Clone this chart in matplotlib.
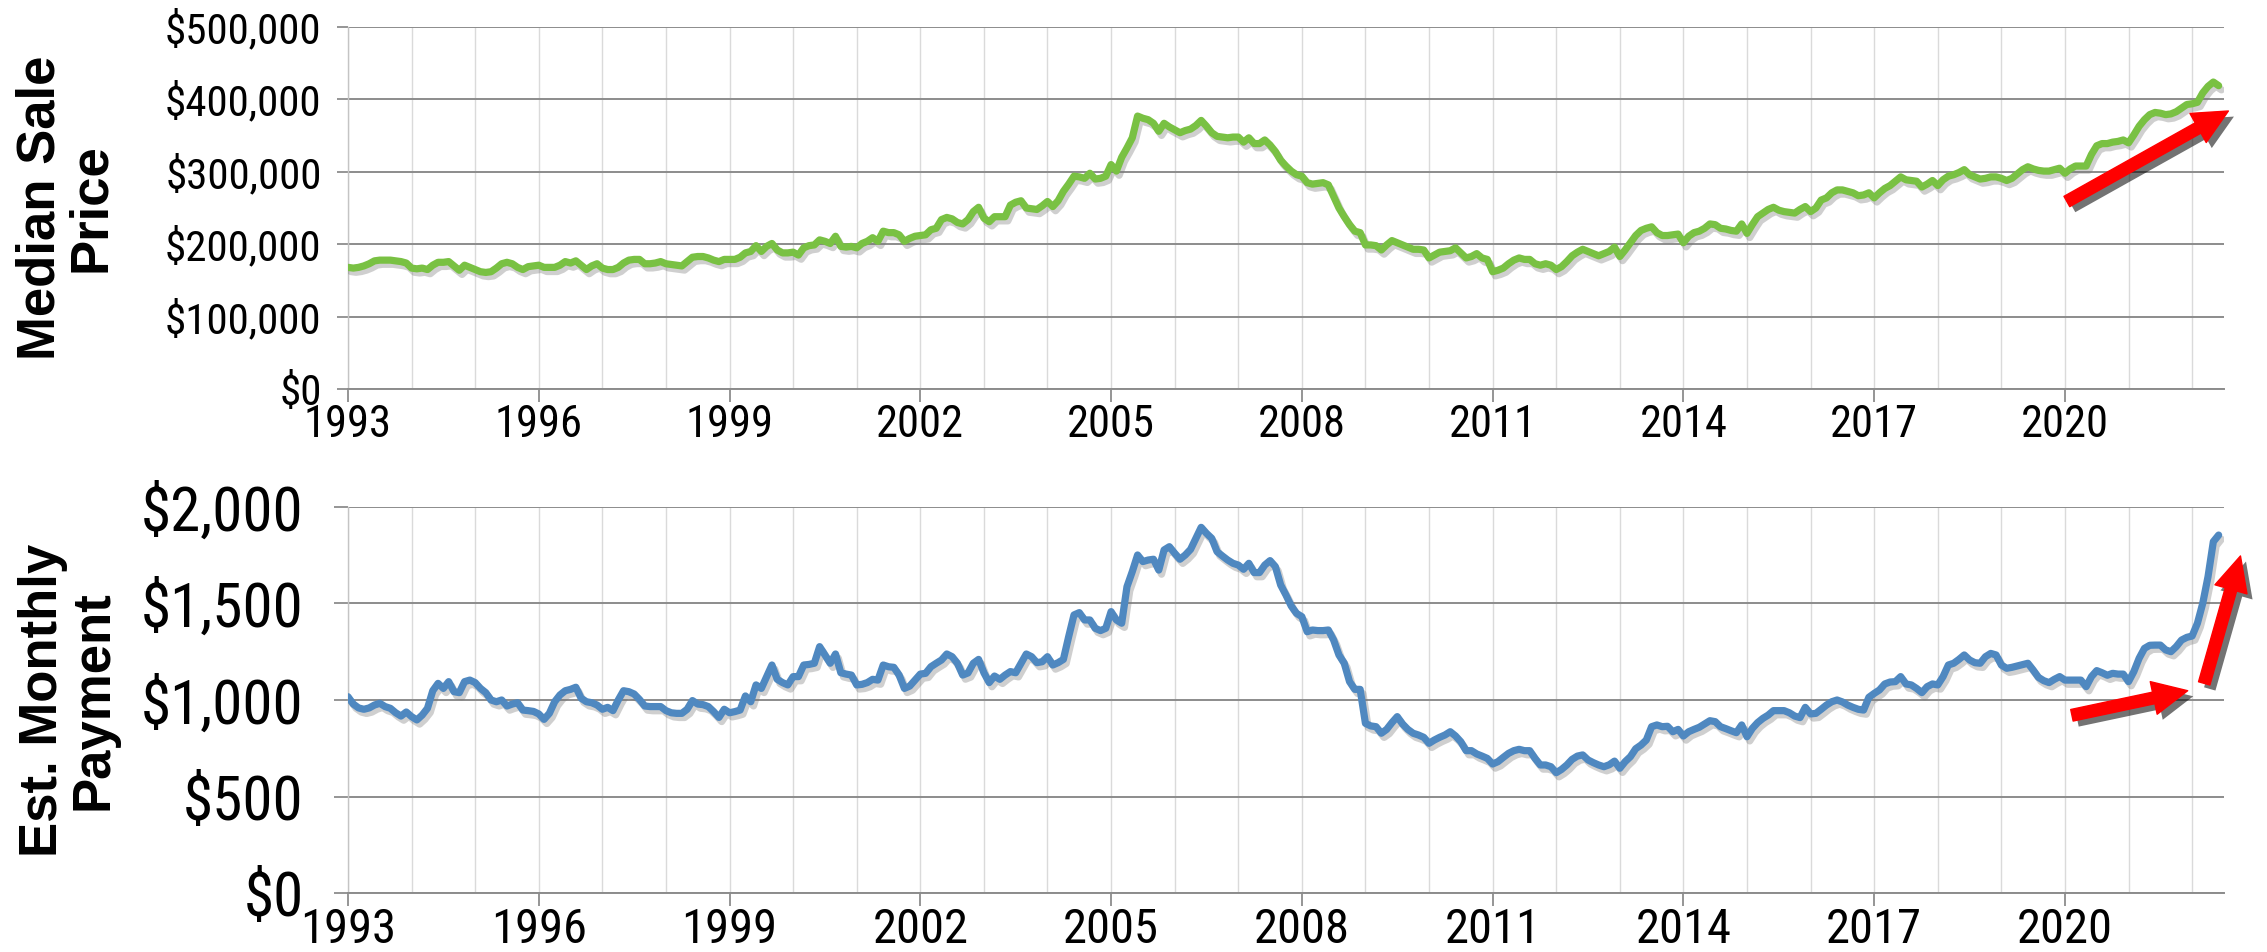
import matplotlib
matplotlib.use("Agg")
import matplotlib.pyplot as plt
import matplotlib.patheffects as pe
import matplotlib.font_manager as fm
from matplotlib.patches import FancyArrowPatch
from matplotlib.ticker import MultipleLocator, FuncFormatter
import numpy as np

plt.rcParams["font.family"] = ["Liberation Sans", "DejaVu Sans"]

# monthly values, Jan 1993 .. Jun 2022
start_year = 1993
median_price_k = [
    168, 167, 168, 170, 173, 177, 178, 178, 178, 177, 176, 174,  # 1993
    167, 166, 167, 165, 171, 175, 175, 176, 170, 164, 171, 168,  # 1994
    165, 162, 161, 162, 167, 173, 175, 173, 168, 165, 169, 170,  # 1995
    171, 168, 168, 168, 171, 176, 174, 177, 171, 165, 170, 173,  # 1996
    167, 165, 165, 168, 174, 178, 179, 179, 173, 173, 174, 176,  # 1997
    173, 172, 171, 170, 176, 182, 183, 183, 181, 178, 176, 179,  # 1998
    179, 179, 182, 188, 190, 198, 190, 197, 201, 192, 188, 188,  # 1999
    189, 185, 195, 198, 199, 206, 204, 201, 211, 197, 196, 197,  # 2000
    195, 201, 204, 209, 204, 218, 216, 216, 213, 204, 208, 211,  # 2001
    212, 213, 220, 222, 234, 237, 235, 230, 228, 234, 245, 251,  # 2002
    236, 231, 238, 238, 238, 254, 258, 260, 250, 249, 248, 253,  # 2003
    259, 252, 260, 273, 283, 294, 293, 291, 298, 290, 291, 294,  # 2004
    310, 301, 320, 333, 347, 377, 374, 372, 367, 356, 367, 362,  # 2005
    358, 354, 357, 359, 364, 371, 363, 354, 349, 348, 347, 348,  # 2006
    348, 341, 347, 339, 339, 344, 337, 328, 316, 308, 301, 296,  # 2007
    294, 285, 283, 284, 285, 282, 266, 250, 238, 227, 218, 216,  # 2008
    199, 199, 198, 192, 199, 205, 202, 199, 196, 193, 193, 192,  # 2009
    181, 185, 189, 190, 191, 195, 188, 181, 183, 187, 181, 179,  # 2010
    162, 164, 167, 173, 178, 181, 179, 179, 173, 171, 173, 171,  # 2011
    165, 169, 176, 184, 189, 193, 190, 187, 184, 187, 190, 196,  # 2012
    183, 192, 202, 212, 219, 222, 224, 216, 212, 212, 213, 214,  # 2013
    202, 211, 216, 218, 222, 228, 227, 222, 221, 219, 218, 228,  # 2014
    215, 227, 238, 243, 248, 251, 247, 245, 244, 243, 248, 252,  # 2015
    245, 250, 261, 264, 271, 275, 275, 273, 271, 267, 268, 271,  # 2016
    264, 271, 277, 281, 287, 293, 289, 288, 287, 279, 283, 288,  # 2017
    281, 289, 294, 296, 299, 303, 296, 293, 290, 291, 293, 293,  # 2018
    291, 288, 291, 297, 303, 307, 304, 302, 301, 301, 303, 305,  # 2019
    298, 304, 308, 308, 308, 324, 336, 339, 339, 341, 342, 344,  # 2020
    340, 351, 363, 372, 379, 382, 381, 379, 380, 383, 388, 393,  # 2021
    394, 396, 409, 418, 424, 419,                                # 2022
]
monthly_payment = [
    1017, 979, 959, 952, 959, 974, 983, 966, 957, 934, 917, 938,        # 1993
    914, 897, 922, 957, 1048, 1086, 1060, 1095, 1043, 1038, 1095, 1103,  # 1994
    1090, 1060, 1038, 1000, 991, 1000, 969, 979, 986, 948, 945, 941,     # 1995
    928, 900, 931, 991, 1026, 1048, 1055, 1066, 1009, 991, 986, 974,     # 1996
    952, 962, 945, 1000, 1048, 1043, 1031, 1003, 969, 966, 966, 966,     # 1997
    945, 934, 931, 931, 952, 997, 979, 976, 966, 940, 910, 952,          # 1998
    934, 940, 948, 1021, 991, 1078, 1060, 1121, 1181, 1107, 1090, 1078,  # 1999
    1121, 1121, 1181, 1184, 1190, 1276, 1233, 1190, 1238, 1141, 1134, 1129,  # 2000
    1078, 1081, 1090, 1107, 1103, 1181, 1172, 1169, 1129, 1060, 1072, 1103,  # 2001
    1134, 1138, 1172, 1190, 1207, 1238, 1224, 1190, 1129, 1140, 1190, 1210,  # 2002
    1141, 1090, 1124, 1107, 1129, 1147, 1141, 1190, 1238, 1224, 1193, 1198,  # 2003
    1224, 1181, 1193, 1210, 1328, 1440, 1452, 1414, 1414, 1371, 1359, 1371,  # 2004
    1457, 1414, 1397, 1586, 1664, 1750, 1716, 1724, 1728, 1672, 1776, 1793,  # 2005
    1759, 1728, 1750, 1779, 1836, 1893, 1862, 1836, 1767, 1745, 1724, 1707,  # 2006
    1698, 1676, 1707, 1659, 1659, 1698, 1721, 1690, 1595, 1543, 1486, 1448,  # 2007
    1431, 1353, 1362, 1359, 1359, 1362, 1310, 1233, 1190, 1095, 1055, 1055,  # 2008
    879, 866, 862, 828, 848, 883, 914, 876, 848, 828, 819, 807,          # 2009
    776, 793, 807, 819, 836, 814, 784, 738, 738, 721, 710, 698,          # 2010
    669, 681, 703, 724, 738, 745, 738, 738, 698, 664, 664, 655,          # 2011
    624, 641, 664, 693, 710, 716, 690, 676, 664, 655, 665, 684,          # 2012
    647, 681, 707, 748, 767, 793, 862, 871, 862, 864, 836, 848,          # 2013
    814, 836, 848, 859, 876, 893, 888, 862, 852, 841, 831, 871,          # 2014
    810, 853, 883, 905, 922, 945, 945, 945, 934, 917, 909, 962,          # 2015
    928, 931, 952, 974, 991, 1000, 990, 974, 962, 952, 948, 1014,        # 2016
    1034, 1052, 1083, 1093, 1095, 1121, 1083, 1078, 1060, 1038, 1069, 1083,  # 2017
    1078, 1121, 1181, 1190, 1210, 1233, 1207, 1193, 1190, 1224, 1241, 1233,  # 2018
    1181, 1164, 1169, 1176, 1183, 1190, 1155, 1117, 1100, 1090, 1107, 1121,  # 2019
    1103, 1103, 1103, 1103, 1069, 1121, 1152, 1141, 1128, 1138, 1134, 1134,  # 2020
    1095, 1147, 1216, 1267, 1283, 1284, 1284, 1259, 1250, 1276, 1310, 1324,  # 2021
    1331, 1397, 1500, 1638, 1819, 1853,                                  # 2022
]

price_ticks = [0, 100000, 200000, 300000, 400000, 500000]
payment_ticks = [0, 500, 1000, 1500, 2000]
year_ticks = list(range(1993, 2021, 3))

# red arrows (tail -> tip, data coords)
price_arrows = [((2020.03, 259000), (2022.57, 384000))]
payment_arrows = [((2020.11, 921), (2021.93, 1048)),
                  ((2022.19, 1086), (2022.76, 1745))]

months = start_year + np.arange(len(median_price_k)) / 12.0
price = np.array(median_price_k) * 1000

# tick labels in the original are a narrow face; use one if there is one
avail = {f.name for f in fm.fontManager.ttflist}
tick_font = {"family": ["Liberation Sans", "DejaVu Sans"], "stretch": "normal"}
sizes = {"top_y": 26, "top_x": 28, "bot_y": 37, "bot_x": 31}
for name in ["Liberation Sans Narrow", "Arial Narrow", "Roboto Condensed",
             "DejaVu Sans Condensed"]:
    if name in avail:
        tick_font = {"family": [name, "DejaVu Sans"], "stretch": "normal"}
        sizes = {"top_y": 31, "top_x": 32, "bot_y": 44, "bot_x": 35}
        break

GRID = "#8c8c8c"
LIGHT = "#dadada"

fig = plt.figure(figsize=(22.67, 9.52), dpi=100)
ax1 = fig.add_axes([0.1535, 0.5914, 0.8275, 0.3802])
ax2 = fig.add_axes([0.1535, 0.0616, 0.8275, 0.4062])


def style(ax, yticks, ysize, xsize, ylen, ypad, xlen, xpad):
    ax.set_xlim(1993, 2022.5)
    ax.set_ylim(yticks[0], yticks[-1])
    ax.set_yticks(yticks)
    ax.set_xticks(year_ticks)
    ax.xaxis.set_minor_locator(MultipleLocator(1))
    ax.set_axisbelow(True)
    ax.grid(axis="x", which="both", color=LIGHT, lw=1.0)
    ax.grid(axis="y", which="major", color=GRID, lw=1.4)
    ax.tick_params(axis="x", which="minor", length=0)
    ax.tick_params(axis="x", which="major", length=xlen, width=1.3,
                   color=GRID, pad=xpad)
    ax.tick_params(axis="y", length=ylen, width=1.3, color=GRID, pad=ypad)
    ax.yaxis.set_major_formatter(FuncFormatter(lambda v, p: "${:,.0f}".format(v)))
    for lab in ax.get_xticklabels():
        lab.set_fontfamily(tick_font["family"])
        lab.set_fontsize(xsize)
    for lab in ax.get_yticklabels():
        lab.set_fontfamily(tick_font["family"])
        lab.set_fontsize(ysize)
    for s in ("top", "right"):
        ax.spines[s].set_visible(False)
    ax.spines["bottom"].set_color(GRID)
    ax.spines["bottom"].set_linewidth(1.4)
    ax.spines["left"].set_color("#c4c4c4")
    ax.spines["left"].set_linewidth(1.0)


style(ax1, price_ticks, sizes["top_y"], sizes["top_x"], 8, 11, 9, 2)
style(ax2, payment_ticks, sizes["bot_y"], sizes["bot_x"], 10, 22, 9, 1)

shadow = [pe.SimpleLineShadow(offset=(2, -3), shadow_color="#777777", alpha=0.35),
          pe.Normal()]
ax1.plot(months, price, color="#79c143", lw=5.2, solid_joinstyle="round",
         solid_capstyle="round", path_effects=shadow, zorder=3)
ax2.plot(months, monthly_payment, color="#4f88c0", lw=5.2, solid_joinstyle="round",
         solid_capstyle="round", path_effects=shadow, zorder=3)


def red_arrow(ax, tail, tip):
    arr = FancyArrowPatch(tail, tip, arrowstyle="simple,head_length=25,head_width=24,tail_width=8.5",
                          mutation_scale=1, color="#ff0000", shrinkA=0, shrinkB=0,
                          clip_on=False, zorder=5,
                          path_effects=[pe.SimplePatchShadow(offset=(4, -4), shadow_rgbFace="black",
                                                             alpha=0.55), pe.Normal()])
    ax.add_patch(arr)


for tail, tip in price_arrows:
    red_arrow(ax1, tail, tip)
for tail, tip in payment_arrows:
    red_arrow(ax2, tail, tip)

fig.text(66 / 2267, 1 - 208 / 952, "Median Sale\nPrice", rotation=90, ha="center",
         va="center", fontsize=38, fontweight="bold", linespacing=1.0,
         multialignment="center")
fig.text(68 / 2267, 1 - 700 / 952, "Est. Monthly\nPayment", rotation=90, ha="center",
         va="center", fontsize=38, fontweight="bold", linespacing=1.0,
         multialignment="center")

fig.savefig("out.png", dpi=100, facecolor="white")
